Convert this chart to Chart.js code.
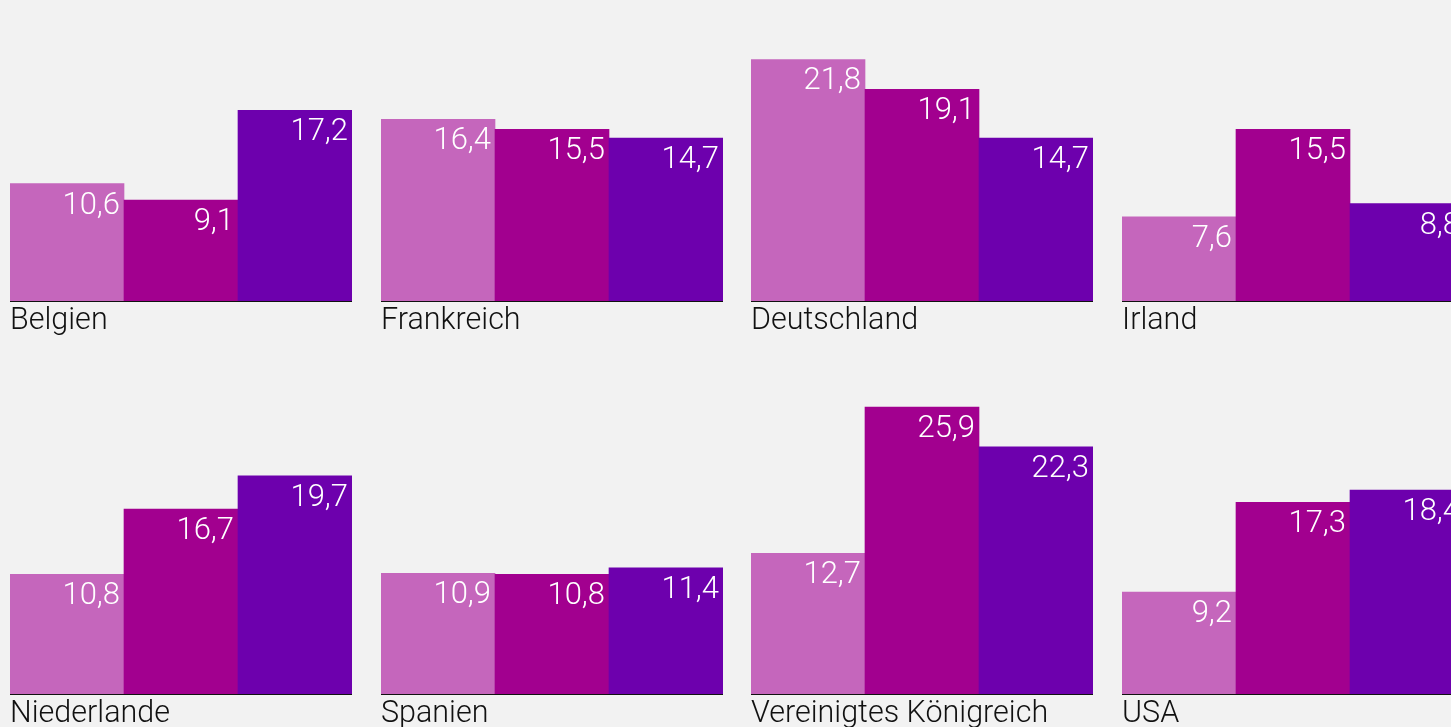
<!DOCTYPE html>
<html>
<head>
<meta charset="utf-8">
<script src="https://cdn.jsdelivr.net/npm/chart.js@4.4.1/dist/chart.umd.min.js"></script>
<style>
  html, body { margin: 0; padding: 0; background: #f2f2f2; width: 1451px; height: 727px; overflow: hidden; }
  .panel { position: absolute; width: 342px; height: 339px; }
</style>
</head>
<body>
<script>
const countries = ['Belgien', 'Frankreich', 'Deutschland', 'Irland', 'Niederlande', 'Spanien', 'Vereinigtes Königreich', 'USA'];
const series1 = [10.6, 16.4, 21.8, 7.6, 10.8, 10.9, 12.7, 9.2];
const series2 = [9.1, 15.5, 19.1, 15.5, 16.7, 10.8, 25.9, 17.3];
const series3 = [17.2, 14.7, 14.7, 8.8, 19.7, 11.4, 22.3, 18.4];
const barColors = ['#c566bc', '#a2008f', '#6d00ad'];
const yMax = 27.08;

const FONT = "Roboto, 'Liberation Sans', Arial, sans-serif";

const valueLabels = {
  id: 'valueLabels',
  afterDatasetsDraw(chart) {
    const ctx = chart.ctx;
    const meta = chart.getDatasetMeta(0);
    ctx.save();
    ctx.fillStyle = '#ffffff';
    ctx.font = '300 31px ' + FONT;
    ctx.textAlign = 'right';
    ctx.textBaseline = 'alphabetic';
    meta.data.forEach((bar, i) => {
      const v = chart.data.datasets[0].data[i];
      const right = bar.x + bar.width / 2;
      ctx.fillText(v.toFixed(1).replace('.', ','), right - 4, bar.y + 30);
    });
    ctx.restore();
  }
};

countries.forEach((name, i) => {
  const col = i % 4, row = Math.floor(i / 4);
  const div = document.createElement('div');
  div.className = 'panel';
  div.style.left = (10 + col * 370.67) + 'px';
  div.style.top = (row === 0 ? 1 : 394) + 'px';
  const canvas = document.createElement('canvas');
  div.appendChild(canvas);
  document.body.appendChild(div);
  new Chart(canvas, {
    type: 'bar',
    data: {
      labels: ['a', 'b', 'c'],
      datasets: [{
        data: [series1[i], series2[i], series3[i]],
        backgroundColor: barColors,
        borderWidth: 0,
        categoryPercentage: 1,
        barPercentage: 1
      }]
    },
    options: {
      responsive: true,
      maintainAspectRatio: false,
      animation: false,
      layout: { padding: 0 },
      plugins: { legend: { display: false }, tooltip: { enabled: false } },
      scales: {
        y: { display: false, min: 0, max: yMax },
        x: {
          display: true,
          grid: { display: false, drawTicks: false },
          ticks: { display: false },
          border: { display: true, color: '#111111', width: 2 },
          title: {
            display: true,
            text: name,
            align: 'start',
            color: '#111111',
            font: { family: FONT, size: 30.5, weight: '300', lineHeight: 37 / 30.5 },
            padding: { top: 2, bottom: 0 }
          }
        }
      }
    },
    plugins: [valueLabels]
  });
});
</script>
</body>
</html>
